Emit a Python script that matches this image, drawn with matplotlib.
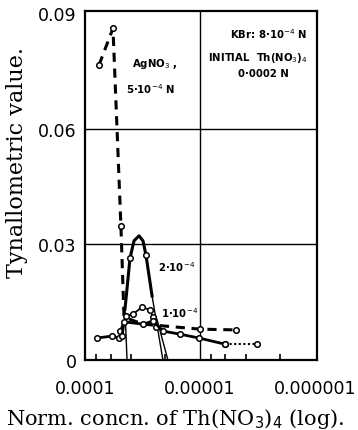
import matplotlib
matplotlib.use("Agg")
import matplotlib.pyplot as plt
from matplotlib.ticker import FixedLocator, NullFormatter

# AgNO3 5e-4 N (dashed)
agno3_x = [7.55e-5, 5.71e-5, 4.87e-5, 4.58e-5, 3.13e-5, 2.02e-5, 1.0e-5, 4.87e-6]
agno3_y = [0.0765, 0.0860, 0.0347, 0.0111, 0.0093, 0.0088, 0.0080, 0.0078]
agno3_mark = [0, 1, 2, 6, 7]

# 2e-4 (bell, thick solid)
bell_x = [4.49e-5, 4.06e-5, 3.75e-5, 3.39e-5, 3.13e-5, 2.95e-5, 2.61e-5]
bell_y = [0.0132, 0.0264, 0.0309, 0.0322, 0.0309, 0.0272, 0.0166]
bell_mark = [1, 5]
# thin extensions of the bell to zero
ext_left_x = [4.49e-5, 4.31e-5]
ext_left_y = [0.0132, 0.0]
ext_right_x = [2.61e-5, 2.10e-5]
ext_right_y = [0.0166, 0.0]
ext2_x = [2.37e-5, 1.90e-5]
ext2_y = [0.0106, 0.0]

# 1e-4 (thin solid)
c1_x = [4.97e-5, 4.40e-5, 3.83e-5, 3.19e-5, 2.72e-5, 2.56e-5, 2.41e-5]
c1_y = [0.0075, 0.0114, 0.0119, 0.0137, 0.0130, 0.0111, 0.0086]

# lower series (thick solid then dotted)
low_x = [7.87e-5, 5.82e-5, 5.06e-5, 4.76e-5, 4.58e-5, 3.13e-5, 2.56e-5, 2.10e-5, 1.49e-5, 1.02e-5, 6.06e-6]
low_y = [0.0057, 0.0062, 0.0057, 0.0062, 0.0099, 0.0093, 0.0101, 0.0075, 0.0067, 0.0057, 0.0041]
dot_x = [6.06e-6, 3.19e-6]
dot_y = [0.0041, 0.0041]

xticks = [1e-4, 1e-5, 1e-6]
xticklabels = ["0.0001", "0.00001", "0.000001"]
yticks = [0, 0.03, 0.06, 0.09]
yticklabels = ["0", "0.03", "0.06", "0.09"]
minor_ticks = [8e-5, 6e-5, 4e-5, 2e-5, 8e-6, 6e-6, 4e-6, 2e-6]

W, H = 358, 431
fig = plt.figure(figsize=(W/100, H/100), dpi=100)
ax = fig.add_axes([85/W, 1-361/H, 232/W, 349/H])

mk = dict(marker='o', markersize=4, markerfacecolor='white', markeredgecolor='black', markeredgewidth=1.1)

ax.plot(agno3_x, agno3_y, color='black', lw=2.2, ls=(0, (3, 2.2)), zorder=3)
ax.plot([agno3_x[i] for i in agno3_mark], [agno3_y[i] for i in agno3_mark], ls='none', zorder=5, **mk)

ax.plot(bell_x, bell_y, color='black', lw=2.2, zorder=3)
ax.plot([bell_x[i] for i in bell_mark], [bell_y[i] for i in bell_mark], ls='none', zorder=5, **mk)
for ex, ey in [(ext_left_x, ext_left_y), (ext_right_x, ext_right_y), (ext2_x, ext2_y)]:
    ax.plot(ex, ey, color='black', lw=1.0, zorder=2)

ax.plot(c1_x, c1_y, color='black', lw=1.3, zorder=4, **mk)
ax.plot(low_x, low_y, color='black', lw=2.0, zorder=4, **mk)
ax.plot(dot_x, dot_y, color='black', lw=1.5, ls=(0, (1, 1.2)), zorder=4, **mk)

ax.set_xscale('log')
ax.set_xlim(1e-4, 9.6e-7)
ax.set_ylim(0, 0.0905)

ax.xaxis.set_major_locator(FixedLocator(xticks))
ax.set_xticklabels(xticklabels)
ax.xaxis.set_minor_locator(FixedLocator(minor_ticks))
ax.xaxis.set_minor_formatter(NullFormatter())
ax.set_yticks(yticks)
ax.set_yticklabels(yticklabels)
ax.tick_params(axis='y', which='major', labelsize=12.5, length=0, pad=6)
ax.tick_params(axis='x', which='major', labelsize=12.5, length=0, pad=14)
ax.tick_params(axis='x', which='minor', direction='in', length=4, width=1.2)

for v in [0.03, 0.06]:
    ax.axhline(v, color='black', lw=1.0, zorder=1)
ax.axvline(1e-5, color='black', lw=1.0, zorder=1)

for s in ax.spines.values():
    s.set_linewidth(1.6)

fig.text(17/W, 1-163/H, "Tynallometric value.", family='DejaVu Serif', fontsize=16,
         rotation=90, ha='center', va='center')
fig.text(175/W, 1-419/H, "Norm. concn. of Th(NO$_3$)$_4$ (log).", family='DejaVu Serif',
         fontsize=15, ha='center', va='center')

tk = dict(family='DejaVu Sans', fontsize=7.3, fontweight='bold', color='black')
ax.text(3.9e-5, 0.077, "AgNO$_3$ ,", ha='left', va='center', **tk)
ax.text(4.4e-5, 0.0705, "5·10$^{-4}$ N", ha='left', va='center', **tk)
ax.text(2.3e-5, 0.0243, "2·10$^{-4}$", ha='left', va='center', **tk)
ax.text(2.2e-5, 0.0125, "1·10$^{-4}$", ha='left', va='center', **tk)
ax.text(5.5e-6, 0.0847, "KBr: 8·10$^{-4}$ N", ha='left', va='center', **tk)
ax.text(8.6e-6, 0.0785, "INITIAL  Th(NO$_3$)$_4$", ha='left', va='center', **tk)
ax.text(2.8e-6, 0.0743, "0·0002 N", ha='center', va='center', **tk)

fig.savefig("out.png", dpi=100)
